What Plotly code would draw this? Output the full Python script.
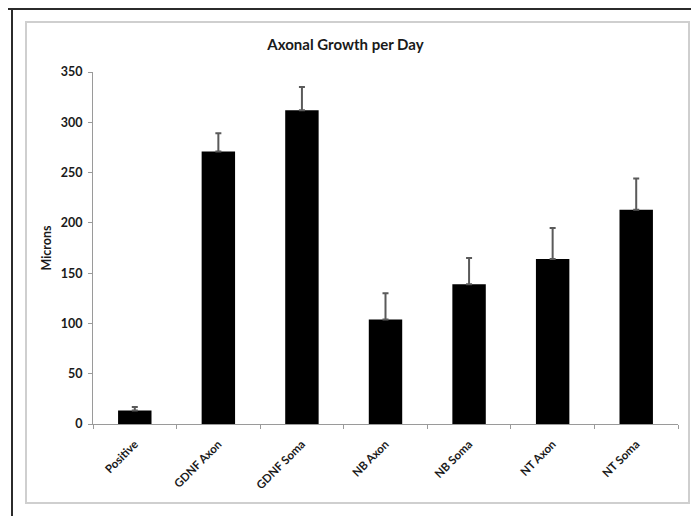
import plotly.graph_objects as go

# Mean axonal growth per day (microns) and the upper error for each condition
categories = ["Positive", "GDNF Axon", "GDNF Soma", "NB Axon", "NB Soma", "NT Axon", "NT Soma"]
growth = [13.5, 271, 312, 104, 139, 164, 213]
growth_err = [3.5, 18, 23, 26, 26, 31, 31]
y_ticks = [0, 50, 100, 150, 200, 250, 300, 350]

FONT = "Lato"

fig = go.Figure(
    go.Bar(
        x=categories,
        y=growth,
        marker=dict(color="#000000", line=dict(width=0)),
        error_y=dict(type="data", array=growth_err, symmetric=False,
                     arrayminus=[0] * len(growth_err),
                     color="#5a5a5a", thickness=2, width=3),
        width=0.4,
    )
)

# plot area margins in pixels
L, R, T, B = 93, 13, 72, 92
W, H = 691, 516
pw, ph = W - L - R, H - T - B


def px(x):
    return (x - L) / pw


def py(y):
    return (H - B - y) / ph


shapes = [
    # light frame around the chart
    dict(type="rect", xref="paper", yref="paper",
         x0=px(26), x1=px(689), y0=py(503), y1=py(22),
         line=dict(color="#cfcfcf", width=2), fillcolor="rgba(0,0,0,0)", layer="below"),
    # dark outer edge lines
    dict(type="line", xref="paper", yref="paper",
         x0=px(8), x1=px(691), y0=py(9), y1=py(9),
         line=dict(color="#2b2b2b", width=2)),
    dict(type="line", xref="paper", yref="paper",
         x0=px(12), x1=px(12), y0=py(9), y1=py(516),
         line=dict(color="#2b2b2b", width=2)),
]

fig.update_layout(
    width=W, height=H,
    margin=dict(l=L, r=R, t=T, b=B),
    paper_bgcolor="white", plot_bgcolor="white",
    showlegend=False,
    font=dict(family=FONT, color="#000000", size=11, weight="bold"),
    title=dict(text="Axonal Growth per Day", x=0.5, xanchor="center",
               y=1 - 45 / H, yanchor="middle",
               font=dict(family=FONT, size=15, weight="bold", color="#1a1a1a")),
    shapes=shapes,
)

fig.update_xaxes(
    type="category",
    tickangle=-45,
    tickson="boundaries",
    ticks="outside", ticklen=4, tickcolor="#9a9a9a",
    showline=True, linecolor="#9a9a9a", linewidth=1,
    showgrid=False, zeroline=False,
    ticklabelstandoff=8,
    tickfont=dict(family=FONT, size=11.5, weight="bold", color="#1a1a1a"),
)

fig.update_yaxes(
    range=[0, 350],
    tickvals=y_ticks,
    ticks="outside", ticklen=4, tickcolor="#9a9a9a",
    showline=True, linecolor="#9a9a9a", linewidth=1,
    showgrid=False, zeroline=False,
    ticklabelstandoff=3,
    tickfont=dict(family=FONT, size=12.5, weight="bold", color="#1a1a1a"),
    title=dict(text="Microns", standoff=6,
               font=dict(family=FONT, size=12.5, weight="bold", color="#1a1a1a")),
)

fig.write_html("out.html")
